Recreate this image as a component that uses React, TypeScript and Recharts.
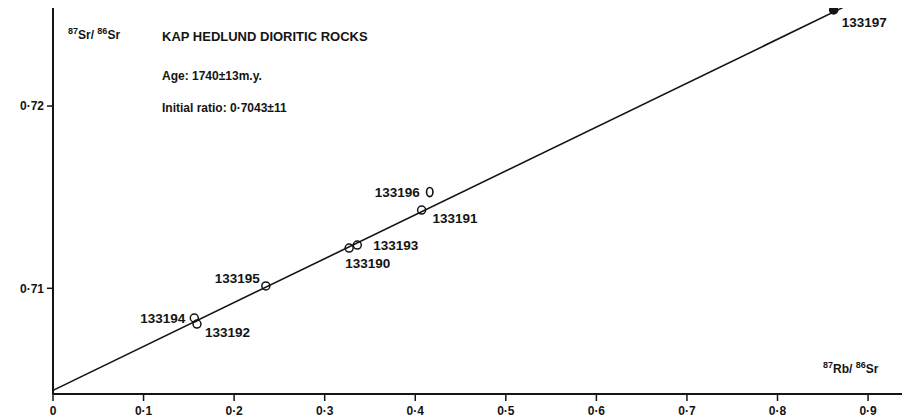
import { ScatterChart, Scatter, XAxis, YAxis, ReferenceLine } from 'recharts';

// values
const sampleIds = ['133194', '133192', '133195', '133190', '133193', '133191', '133196', '133197'];
const rbSr = [0.156, 0.159, 0.235, 0.327, 0.336, 0.407, 0.416, 0.862];
const srSr = [0.70837, 0.70804, 0.71013, 0.71221, 0.71237, 0.71429, 0.71528, 0.72527];

const xTicks = [0, 0.1, 0.2, 0.3, 0.4, 0.5, 0.6, 0.7, 0.8, 0.9];
const yTicks = [0.71, 0.72];

// isochron line ends
const isochron = [
  { x: 0, y: 0.7044 },
  { x: 0.872, y: 0.7254 },
];

const X_DOMAIN: [number, number] = [0, 0.9463];
const Y_DOMAIN: [number, number] = [0.7042, 0.72549];

const FONT = '"Liberation Sans", Arial, Helvetica, sans-serif';
const INK = '#141414';

// where each sample's label sits relative to its marker
const LABEL_POS: Record<string, { dx: number; dy: number; anchor: 'start' | 'end' }> = {
  '133194': { dx: -9, dy: 5, anchor: 'end' },
  '133192': { dx: 8, dy: 13, anchor: 'start' },
  '133195': { dx: -6, dy: -3, anchor: 'end' },
  '133190': { dx: -4, dy: 20, anchor: 'start' },
  '133193': { dx: 16, dy: 5, anchor: 'start' },
  '133191': { dx: 11, dy: 13, anchor: 'start' },
  '133196': { dx: -10, dy: 5, anchor: 'end' },
  '133197': { dx: 8, dy: 17, anchor: 'start' },
};
const FILLED = ['133197'];
const OVAL = ['133196'];

const points = sampleIds.map((id, i) => ({ id, x: rbSr[i], y: srSr[i] }));

const fmt = (digits: number) => (v: number) => (v === 0 ? '0' : v.toFixed(digits).replace('.', '·'));

function SamplePoint(props: any) {
  const { cx, cy, payload } = props;
  if (cx == null || cy == null) return null;
  const id: string = payload.id;
  const pos = LABEL_POS[id];
  const filled = FILLED.includes(id);
  return (
    <g>
      {OVAL.includes(id) ? (
        <ellipse cx={cx} cy={cy} rx={3.2} ry={4.6} fill="#fff" stroke={INK} strokeWidth={1.6} />
      ) : (
        <circle cx={cx} cy={cy} r={4} fill={filled ? INK : 'none'} stroke={INK} strokeWidth={1.5} />
      )}
      <text
        x={cx + pos.dx}
        y={cy + pos.dy}
        textAnchor={pos.anchor}
        fontFamily={FONT}
        fontWeight={700}
        fontSize={13.5}
        fill={INK}
      >
        {id}
      </text>
    </g>
  );
}

export default function App() {
  return (
    <div style={{ position: 'relative', width: 910, height: 418, marginLeft: -8, marginTop: -8, background: '#fff' }}>
      <ScatterChart width={910} height={418} margin={{ top: 6, right: 0, bottom: 0, left: 0 }}>
        <XAxis
          type="number"
          dataKey="x"
          domain={X_DOMAIN}
          ticks={xTicks}
          allowDataOverflow
          tickFormatter={fmt(1)}
          height={24}
          tickSize={7}
          tickMargin={5}
          axisLine={{ stroke: INK, strokeWidth: 2 }}
          tickLine={{ stroke: INK, strokeWidth: 1.5 }}
          tick={{ fill: INK, fontSize: 12, fontWeight: 700, fontFamily: FONT }}
        />
        <YAxis
          type="number"
          dataKey="y"
          domain={Y_DOMAIN}
          ticks={yTicks}
          allowDataOverflow
          tickFormatter={fmt(2)}
          width={53}
          tickSize={6}
          tickMargin={3}
          axisLine={{ stroke: INK, strokeWidth: 2 }}
          tickLine={{ stroke: INK, strokeWidth: 1.5 }}
          tick={{ fill: INK, fontSize: 12, fontWeight: 700, fontFamily: FONT }}
        />
        <ReferenceLine y={Y_DOMAIN[1]} stroke={INK} strokeWidth={2.5} />
        <ReferenceLine segment={isochron} stroke={INK} strokeWidth={1.6} />
        <Scatter data={points} isAnimationActive={false} shape={(p: any) => <SamplePoint {...p} />} />
      </ScatterChart>
      <svg
        width={910}
        height={418}
        style={{ position: 'absolute', left: 0, top: 0, pointerEvents: 'none' }}
        fontFamily={FONT}
        fontWeight={700}
        fill={INK}
      >
        <text x={68} y={39} fontSize={12}>
          <tspan fontSize={9} dy={-5}>87</tspan>
          <tspan dy={5}>Sr/ </tspan>
          <tspan fontSize={9} dy={-5}>86</tspan>
          <tspan dy={5}>Sr</tspan>
        </text>
        <text x={162} y={41} fontSize={13}>KAP HEDLUND DIORITIC ROCKS</text>
        <text x={162} y={80} fontSize={12}>Age: 1740±13m.y.</text>
        <text x={162} y={112} fontSize={12}>Initial ratio: 0·7043±11</text>
        <text x={823} y={373} fontSize={12}>
          <tspan fontSize={9} dy={-5}>87</tspan>
          <tspan dy={5}>Rb/ </tspan>
          <tspan fontSize={9} dy={-5}>86</tspan>
          <tspan dy={5}>Sr</tspan>
        </text>
      </svg>
    </div>
  );
}
